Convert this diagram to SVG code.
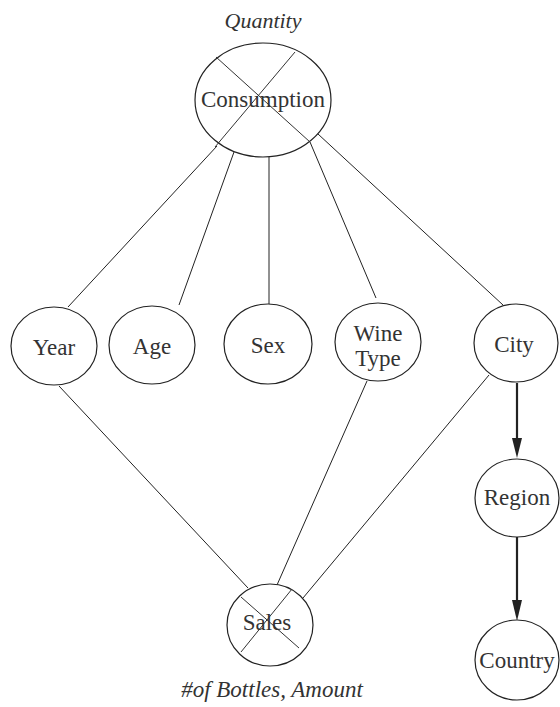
<svg xmlns="http://www.w3.org/2000/svg" width="560" height="707" viewBox="0 0 560 707">
<style>
.n{fill:#fff;stroke:#222;stroke-width:1.2}
.t{font-family:"Liberation Serif","Times New Roman",serif;font-size:23px;fill:#333;text-anchor:middle}
.i{font-family:"Liberation Serif","Times New Roman",serif;font-size:22px;font-style:italic;fill:#333;text-anchor:middle}
.e{stroke:#222;stroke-width:1;fill:none}
.a{stroke:#222;stroke-width:2.2;fill:none}
.x{stroke:#333;stroke-width:1}
.h{fill:#222}
</style>
<g id="connectors">
<line class="e" x1="217" y1="146" x2="68" y2="307"/>
<line class="e" x1="234" y1="152" x2="179" y2="305"/>
<line class="e" x1="269" y1="157" x2="269" y2="304"/>
<line class="e" x1="310" y1="142" x2="376" y2="298"/>
<line class="e" x1="318" y1="134" x2="503" y2="305"/>
<line class="e" x1="59" y1="386" x2="248" y2="588"/>
<line class="e" x1="367" y1="381" x2="277" y2="585"/>
<line class="e" x1="489" y1="375" x2="303" y2="598"/>
<path class="a" d="M517,383 L517,440"/>
<path class="h" d="M512,438 L522,438 L517,458 Z"/>
<path class="a" d="M517,537 L517,602"/>
<path class="h" d="M512,600 L522,600 L517,621 Z"/>
</g>
<g id="consumption">
<text class="i" x="263" y="28">Quantity</text>
<ellipse class="n" cx="263" cy="100" rx="68" ry="57"/>
<line class="x" x1="216" y1="57" x2="310" y2="142"/>
<line class="x" x1="295" y1="52" x2="215" y2="147"/>
<text class="t" x="263" y="107">Consumption</text>
</g>
<g id="year">
<ellipse class="n" cx="54" cy="346" rx="43" ry="39"/>
<text class="t" x="54" y="355">Year</text>
</g>
<g id="age">
<ellipse class="n" cx="152" cy="345" rx="43" ry="39"/>
<text class="t" x="152" y="354">Age</text>
</g>
<g id="sex">
<ellipse class="n" cx="268" cy="344" rx="44" ry="40"/>
<text class="t" x="268" y="353">Sex</text>
</g>
<g id="winetype">
<ellipse class="n" cx="378" cy="342" rx="43" ry="39"/>
<text class="t" x="378" y="341">Wine</text>
<text class="t" x="378" y="366">Type</text>
</g>
<g id="city">
<ellipse class="n" cx="516" cy="343" rx="42" ry="39"/>
<text class="t" x="514" y="352">City</text>
</g>
<g id="region">
<ellipse class="n" cx="517" cy="498" rx="42" ry="39"/>
<text class="t" x="517" y="505">Region</text>
</g>
<g id="country">
<ellipse class="n" cx="517" cy="660" rx="42" ry="40"/>
<text class="t" x="517" y="668">Country</text>
</g>
<g id="sales">
<ellipse class="n" cx="270" cy="625" rx="43" ry="41"/>
<line class="x" x1="241" y1="597" x2="299" y2="648"/>
<line class="x" x1="292" y1="589" x2="241" y2="652"/>
<text class="t" x="267" y="630">Sales</text>
<text class="i" x="272" y="697" style="font-size:23px">#of Bottles, Amount</text>
</g>
</svg>
